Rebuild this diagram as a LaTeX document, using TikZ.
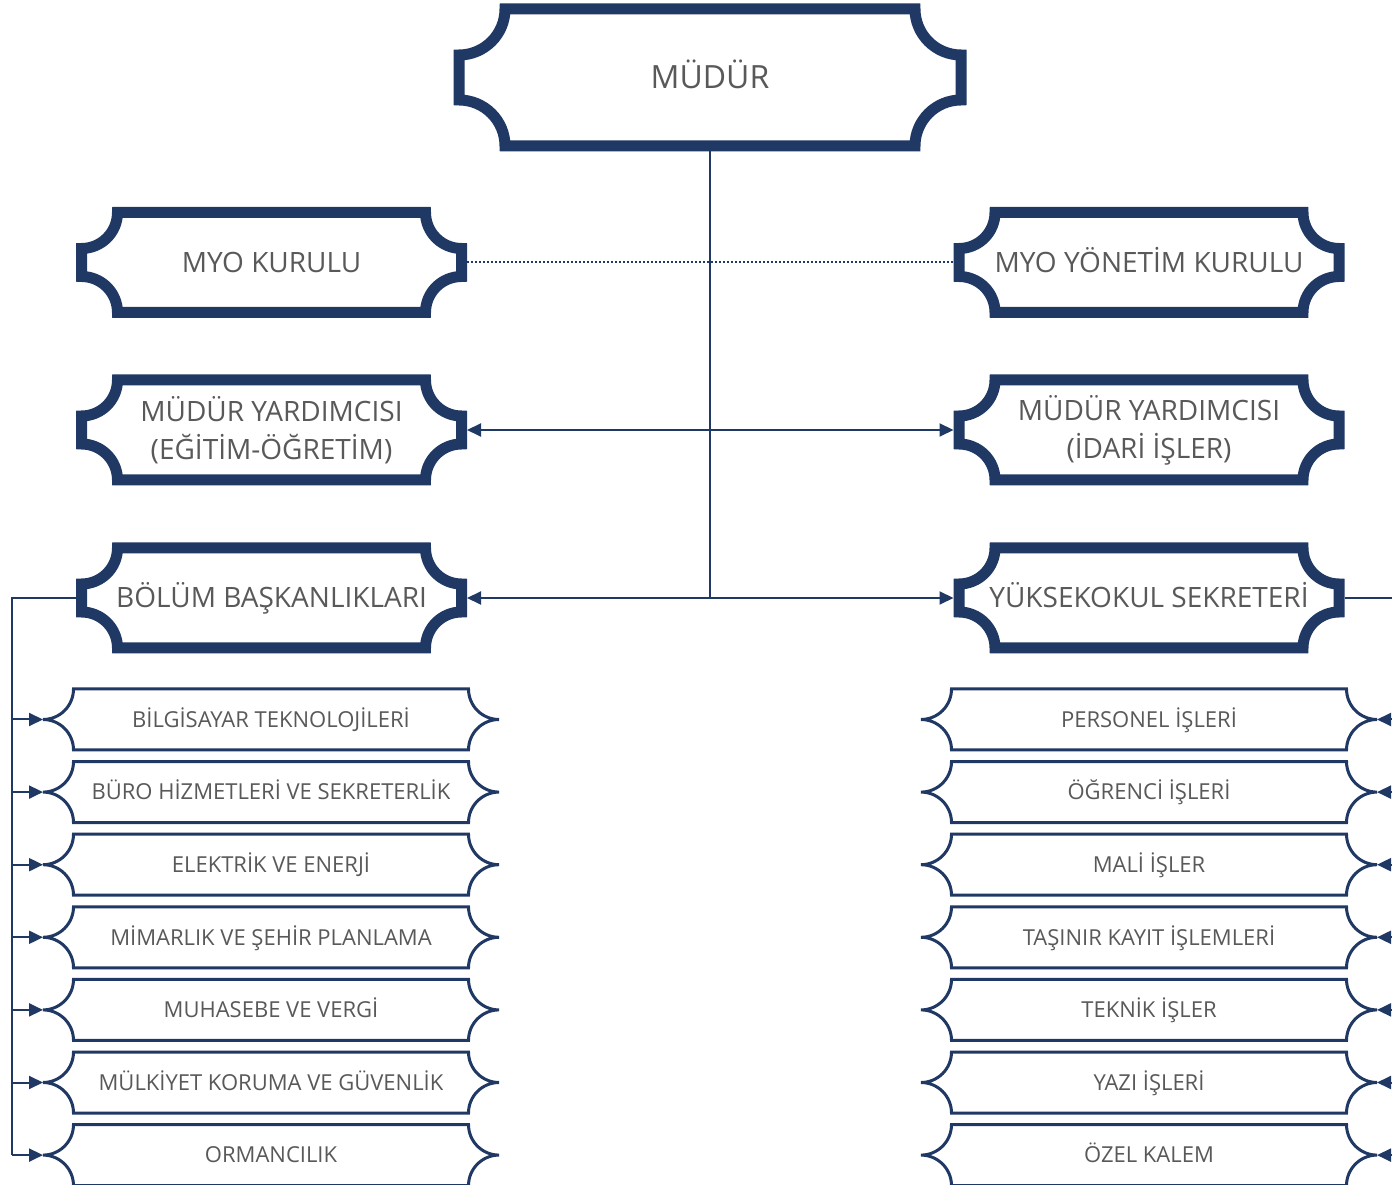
\documentclass[tikz,border=0pt]{standalone}
\usepackage{fontspec}
\setmainfont{Open Sans}
\usetikzlibrary{calc,arrows.meta}
\definecolor{navy}{HTML}{203864}
\definecolor{txt}{HTML}{595959}
\newcommand\plaque[3]{%
  \draw[#3] ($(#1.north west)+(#2,0)$) -- ($(#1.north east)+(-#2,0)$)
   .. controls ($(#1.north east)+(-#2,-0.5523*#2)$) and ($(#1.north east)+(-0.5523*#2,-#2)$) .. ($(#1.north east)+(0,-#2)$)
   -- ($(#1.south east)+(0,#2)$)
   .. controls ($(#1.south east)+(-0.5523*#2,#2)$) and ($(#1.south east)+(-#2,0.5523*#2)$) .. ($(#1.south east)+(-#2,0)$)
   -- ($(#1.south west)+(#2,0)$)
   .. controls ($(#1.south west)+(#2,0.5523*#2)$) and ($(#1.south west)+(0.5523*#2,#2)$) .. ($(#1.south west)+(0,#2)$)
   -- ($(#1.north west)+(0,-#2)$)
   .. controls ($(#1.north west)+(0.5523*#2,-#2)$) and ($(#1.north west)+(#2,-0.5523*#2)$) .. cycle;
}
\tikzset{
  bigbox/.style={rectangle, minimum width=380pt, minimum height=100pt, inner sep=0pt, outer sep=0pt,
    text=txt, font=\fontsize{28}{38}\selectfont, align=center},
  oneline/.style={text height=24pt, text depth=4pt},
  smallbox/.style={rectangle, minimum width=456pt, minimum height=61pt, inner sep=0pt, outer sep=0pt,
    text=txt, font=\fontsize{22}{26}\selectfont, text height=18pt, text depth=2.5pt},
  thickline/.style={draw=navy, line width=11pt, line join=miter},
  thinline/.style={draw=navy, line width=3pt},
  conn/.style={draw=navy, line width=2pt},
  tip/.style={-{Triangle[length=14pt,width=13pt]}},
}
\begin{document}
\begin{tikzpicture}[x=1pt,y=1pt]
\fill[white] (0,0) rectangle (1392,1184);
\clip (0,0) rectangle (1392,1184);
% top-level boxes
\node[bigbox, oneline, minimum width=502pt, minimum height=137pt, font=\fontsize{32}{38}\selectfont, text height=27pt, text depth=4pt] (mudur) at (710,1106.5) {MÜDÜR};
\node[bigbox, oneline] (kurul) at (271.5,921.5) {MYO KURULU};
\node[bigbox, oneline] (yonetim) at (1149,921.5) {MYO YÖNETİM KURULU};
\node[bigbox] (yardA) at (271.5,754) {MÜDÜR YARDIMCISI\\(EĞİTİM-ÖĞRETİM)};
\node[bigbox] (yardB) at (1149,754) {MÜDÜR YARDIMCISI\\(İDARİ İŞLER)};
\node[bigbox, oneline] (bolum) at (271.5,586) {BÖLÜM BAŞKANLIKLARI};
\node[bigbox, oneline] (sekr) at (1149,586) {YÜKSEKOKUL SEKRETERİ};
\plaque{mudur}{46}{thickline}
\foreach \n in {kurul,yonetim,yardA,yardB,bolum,sekr}{\plaque{\n}{36}{thickline}}
% lower boxes
\foreach \i/\t in {1/BİLGİSAYAR TEKNOLOJİLERİ,2/BÜRO HİZMETLERİ VE SEKRETERLİK,3/ELEKTRİK VE ENERJİ,4/MİMARLIK VE ŞEHİR PLANLAMA,5/MUHASEBE VE VERGİ,6/MÜLKİYET KORUMA VE GÜVENLİK,7/ORMANCILIK}{
  \node[smallbox] (l\i) at (271,{464.5-(\i-1)*72.6}) {\t};
  \plaque{l\i}{30.5}{thinline}
}
\foreach \i/\t in {1/PERSONEL İŞLERİ,2/ÖĞRENCİ İŞLERİ,3/MALİ İŞLER,4/TAŞINIR KAYIT İŞLEMLERİ,5/TEKNİK İŞLER,6/YAZI İŞLERİ,7/ÖZEL KALEM}{
  \node[smallbox] (r\i) at (1149,{464.5-(\i-1)*72.6}) {\t};
  \plaque{r\i}{30.5}{thinline}
}
% connectors
\coordinate (trunk) at (mudur.south |- bolum.east);
\draw[conn, line width=2.5pt, shorten <=5.5pt] (mudur.south) -- (trunk);
\draw[navy, line width=2pt, dash pattern=on 2pt off 2pt, shorten <=5.5pt, shorten >=5.5pt] (kurul.east) -- (yonetim.west);
\draw[conn, tip, shorten >=5.5pt] (mudur.south |- yardA.east) -- (yardA.east);
\draw[conn, tip, shorten >=5.5pt] (mudur.south |- yardB.west) -- (yardB.west);
\draw[conn, tip, shorten >=5.5pt] (trunk) -- (bolum.east);
\draw[conn, tip, shorten >=5.5pt] (trunk) -- (sekr.west);
\coordinate (lbus) at (12,586);
\coordinate (rbus) at (1402,586);
\draw[conn, shorten <=5.5pt] (bolum.west) -- (lbus) -- (lbus |- l7.west);
\draw[conn, shorten <=5.5pt] (sekr.east) -- (rbus) -- (rbus |- r7.east);
\foreach \i in {1,...,7}{
  \draw[conn, tip] (lbus |- l\i.west) -- (l\i.west);
  \draw[conn, tip] (rbus |- r\i.east) -- (r\i.east);
}
\end{tikzpicture}
\end{document}
